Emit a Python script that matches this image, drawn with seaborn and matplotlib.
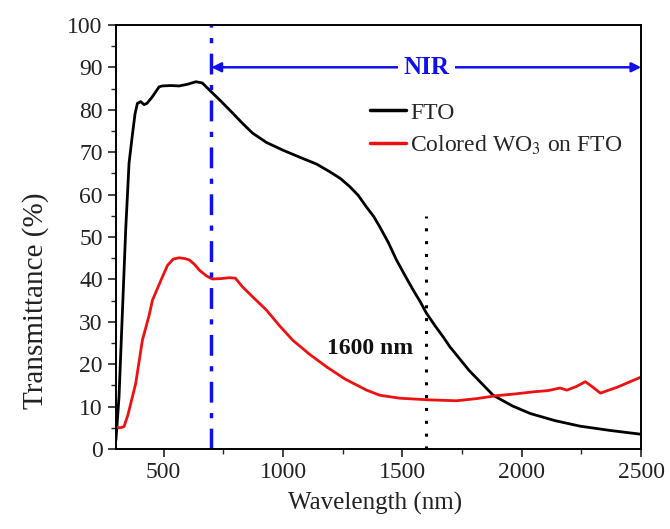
import matplotlib
matplotlib.use("Agg")
import matplotlib.pyplot as plt
import seaborn as sns
import pandas as pd
import numpy as np
from matplotlib.ticker import MultipleLocator

# ---- data ----
fto_wl = [300, 313, 327, 341, 355, 368, 380, 390, 404, 418, 430, 452, 481, 494, 530, 565, 600,
          635, 662, 698, 740, 789, 830, 872, 930, 998, 1070, 1140, 1195, 1240, 1279, 1315, 1349,
          1380, 1405, 1440, 1475, 1510, 1545, 1575, 1601, 1635, 1670, 1699, 1780, 1880, 1960,
          2035, 2140, 2245, 2370, 2500]
fto_t = [2.1, 12.3, 32.0, 51.7, 67.4, 73.6, 79.0, 81.5, 81.9, 81.2, 81.5, 83.0, 85.4, 85.6, 85.7,
         85.6, 86.0, 86.6, 86.3, 84.3, 82.0, 79.2, 76.8, 74.5, 72.3, 70.5, 68.8, 67.2, 65.4, 63.8,
         61.9, 59.8, 57.1, 54.8, 52.4, 48.8, 44.6, 41.0, 37.5, 34.7, 32.0, 29.2, 26.5, 24.1, 18.5,
         12.7, 10.2, 8.4, 6.7, 5.4, 4.4, 3.5]

wo3_wl = [300, 315, 334, 350, 369, 383, 411, 439, 453, 494, 516, 540, 565, 590, 607, 630, 649,
          680, 704, 740, 775, 800, 831, 880, 930, 985, 1040, 1110, 1182, 1260, 1350, 1405, 1489,
          1615, 1727, 1810, 1895, 1970, 2048, 2110, 2160, 2189, 2230, 2266, 2300, 2329, 2400, 2500]
wo3_t = [5.3, 5.0, 5.3, 8.0, 12.3, 15.5, 25.7, 31.5, 35.1, 40.5, 43.3, 44.8, 45.1, 44.9, 44.6,
         43.5, 42.2, 40.8, 40.1, 40.2, 40.4, 40.3, 38.2, 35.5, 32.8, 29.1, 25.7, 22.4, 19.4, 16.5,
         13.9, 12.7, 12.0, 11.6, 11.4, 11.9, 12.6, 13.0, 13.5, 13.8, 14.4, 13.9, 14.8, 15.9, 14.5,
         13.2, 14.6, 17.0]

series_names = ["FTO", "Colored WO$_3$ on FTO"]
series_colors = ["black", "#ee1111"]

df = pd.concat([
    pd.DataFrame({"Wavelength": fto_wl, "T": fto_t, "Sample": series_names[0]}),
    pd.DataFrame({"Wavelength": wo3_wl, "T": wo3_t, "Sample": series_names[1]}),
], ignore_index=True)

sns.set_theme(style="white")
plt.rcParams["font.family"] = ["Liberation Serif", "DejaVu Serif"]
plt.rcParams["mathtext.fontset"] = "stix"

fig = plt.figure(figsize=(6.7, 5.29), dpi=100)
ax = fig.add_axes([0.173, 0.151, 0.784, 0.802])

sns.lineplot(data=df, x="Wavelength", y="T", hue="Sample", palette=series_colors,
             hue_order=series_names, linewidth=2.0, sort=False, ax=ax, legend=True)

# NIR boundary and 1600 nm markers
ax.plot([700, 700], [0, 100], color="#1010ee", linestyle=(0, (6, 3, 1.5, 3)), linewidth=2.5)
ax.plot([1600, 1600], [0, 55], color="black", linestyle=(0, (1, 3.2)), linewidth=2.2)

ax.annotate("", xy=(700, 90), xytext=(2500, 90),
            arrowprops=dict(arrowstyle="<|-|>", color="#1010ee", lw=1.8,
                            mutation_scale=14, shrinkA=0, shrinkB=0))
ax.text(1600, 90, "NIR", color="#1010ee", fontsize=18, fontweight="bold",
        ha="center", va="center",
        bbox=dict(facecolor="white", edgecolor="none", pad=4))
ax.text(1365, 23.6, "1600 nm", fontsize=17, fontweight="bold", ha="center", va="center",
        color="#111111")

ax.set_xlim(300, 2500)
ax.set_ylim(0, 100)
ax.xaxis.set_major_locator(MultipleLocator(500))
ax.xaxis.set_minor_locator(MultipleLocator(250))
ax.yaxis.set_major_locator(MultipleLocator(10))
ax.yaxis.set_minor_locator(MultipleLocator(5))
ax.tick_params(axis="both", which="major", direction="out", length=6, width=1.2,
               labelsize=17, bottom=True, left=True, top=False, right=False, colors="#222222")
ax.tick_params(axis="both", which="minor", direction="out", length=3.5, width=1.0,
               bottom=True, left=True, top=False, right=False)
for s in ax.spines.values():
    s.set_color("black")
    s.set_linewidth(1.4)

ax.set_xlabel("Wavelength (nm)", fontsize=18, color="#222222")
ax.set_ylabel("Transmittance (%)", fontsize=21, color="#222222")
ax.xaxis.set_label_coords(0.493, -0.10)
ax.yaxis.set_label_coords(-0.128, 0.35)

leg = ax.legend(loc="upper left", bbox_to_anchor=(0.466, 0.84), frameon=False, fontsize=17,
                handlelength=1.5, handletextpad=0.2, labelspacing=0.42, borderaxespad=0)
for line in leg.get_lines():
    line.set_linewidth(2.5)

fig.savefig("out.png", dpi=100, facecolor="white")
